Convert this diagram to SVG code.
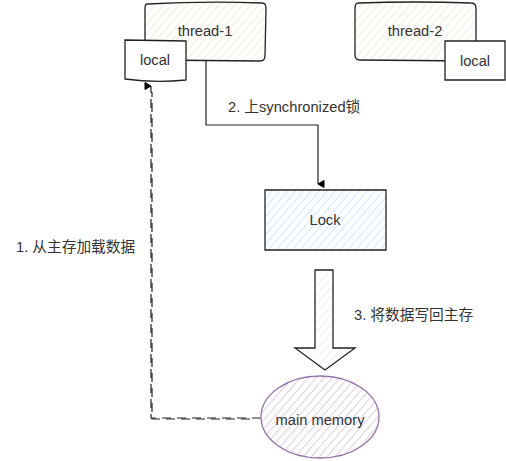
<svg xmlns="http://www.w3.org/2000/svg" width="506" height="461" viewBox="0 0 506 461">
<defs>
<pattern id="hY" width="6" height="6" patternUnits="userSpaceOnUse" patternTransform="rotate(41)">
<rect width="6" height="6" fill="#ffffff"/><line x1="0" y1="0" x2="0" y2="6" stroke="#f1eedc" stroke-width="2"/></pattern>
<pattern id="hB" width="6" height="6" patternUnits="userSpaceOnUse" patternTransform="rotate(41)">
<rect width="6" height="6" fill="#ffffff"/><line x1="0" y1="0" x2="0" y2="6" stroke="#d5e5fb" stroke-width="2"/></pattern>
<pattern id="hP" width="6" height="6" patternUnits="userSpaceOnUse" patternTransform="rotate(41)">
<rect width="6" height="6" fill="#ffffff"/><line x1="0" y1="0" x2="0" y2="6" stroke="#ddd0e4" stroke-width="2"/></pattern>
<pattern id="hW" width="6" height="6" patternUnits="userSpaceOnUse" patternTransform="rotate(41)">
<rect width="6" height="6" fill="#ffffff"/><line x1="0" y1="0" x2="0" y2="6" stroke="#ececec" stroke-width="1.5"/></pattern>
<marker id="arr" markerWidth="8" markerHeight="8" refX="4" refY="7" orient="auto-start-reverse" markerUnits="userSpaceOnUse">
<path d="M0.5,1 L4,7 L7.5,1 Z" fill="#000" stroke="#000" stroke-width="1"/></marker>
</defs>
<style>
text{font-family:"Liberation Sans",Arial,"Noto Sans CJK SC",sans-serif;font-size:14.7px;fill:#333}
.c{text-anchor:middle;dominant-baseline:central}
.box{stroke:#222;stroke-width:1.3}
.edge{fill:none;stroke:#222;stroke-width:1.2}
</style>
<g id="connectors">
<path class="edge" d="M206,61 L206,125 L318,125 L318,184" marker-end="url(#arr)"/>
<path class="edge" d="M261,418 L151,418 L151,86" stroke-dasharray="9 6" marker-end="url(#arr)"/>
<path class="edge" d="M250,419 L152,419 L152,92" stroke-dasharray="9 6" stroke-width="0.8"/>
</g>
<g id="thread1">
<path class="box" fill="url(#hY)" d="M147,4 Q205,1 262,3 Q266,3 266,8 L265,56 Q265,61 260,61 L150,60 Q145,60 145,55 L145,9 Q145,4 147,4 Z"/>
<text class="c" x="205" y="31">thread-1</text>
</g>
<g id="local1">
<path class="box" fill="#fff" d="M125,40 L186,41 L186,80 Q155,83 125,79 Z"/>
<text class="c" x="155" y="60">local</text>
</g>
<g id="thread2">
<path class="box" fill="url(#hY)" d="M358,3 Q415,1 471,3 Q476,3 476,8 L476,56 Q476,61 471,61 L360,60 Q355,60 355,55 L355,9 Q355,3 358,3 Z"/>
<text class="c" x="415" y="31">thread-2</text>
</g>
<g id="local2">
<path class="box" fill="#fff" d="M445,41 L505,41 L505,80 L445,80 Z"/>
<text class="c" x="475" y="61">local</text>
</g>
<g id="label2"><text x="228" y="112">2. 上synchronized锁</text></g>
<g id="lock">
<path class="box" fill="url(#hB)" d="M265,190 L386,190 L386,250 L265,250 Z"/>
<text class="c" x="325" y="220">Lock</text>
</g>
<g id="bigArrow">
<path class="box" fill="url(#hW)" stroke-width="1" d="M315,270 L333,270 L333,348 L355,348 L325,370 L295,348 L315,348 Z"/>
</g>
<g id="label3"><text x="354" y="320">3. 将数据写回主存</text></g>
<g id="mainMemory">
<ellipse cx="320" cy="417" rx="59" ry="41" fill="url(#hP)" stroke="#9673a6" stroke-width="1.3"/>
<text class="c" x="320" y="420">main memory</text>
</g>
<g id="label1"><text x="16" y="252">1. 从主存加载数据</text></g>
</svg>
